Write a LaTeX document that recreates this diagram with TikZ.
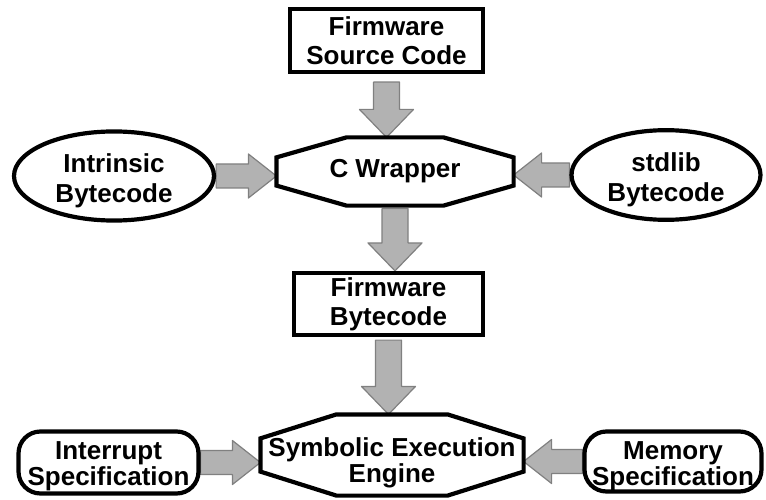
\documentclass[tikz,border=0pt]{standalone}
\usepackage{fontspec}
\setmainfont{Liberation Sans}
\usetikzlibrary{shapes.geometric,calc,backgrounds}

\tikzset{
  box/.style={draw, line width=4.2pt, align=center, inner sep=0pt, font=\bfseries\fontsize{26}{29}\selectfont},
  blk/.style={box, rectangle},
  oval/.style={box, ellipse, font=\bfseries\fontsize{26}{30}\selectfont},
  pill/.style={box, rectangle, rounded corners=22pt, font=\bfseries\fontsize{26}{26}\selectfont},
  octbox/.style={box, draw=none, rectangle},
  outline/.style={line width=4.2pt, line join=miter},
  fat/.style={fill=black!30, draw=black!50, line width=1.2pt, line join=round}
}

\newcommand{\lift}[1]{\rule{0pt}{#1}}

\newcommand{\octa}[3]{%
  \draw[outline] ([xshift=#2]#1.north west) -- ([xshift=-#2]#1.north east)
    -- ([yshift=-#3]#1.north east) -- ([yshift=#3]#1.south east)
    -- ([xshift=-#2]#1.south east) -- ([xshift=#2]#1.south west)
    -- ([yshift=#3]#1.south west) -- ([yshift=-#3]#1.north west) -- cycle;}

\newcommand{\fatarrow}[4]{%
  \draw[fat] ($(#1)!#3!-90:(#2)$) -- ($(#2)!28pt!(#1)!#3!-90:(#2)$)
    -- ($(#2)!28pt!(#1)!#4!-90:(#2)$) -- (#2)
    -- ($(#2)!28pt!(#1)!#4!90:(#2)$) -- ($(#2)!28pt!(#1)!#3!90:(#2)$)
    -- ($(#1)!#3!90:(#2)$) -- cycle;}

\begin{document}
\begin{tikzpicture}[x=1pt,y=-1pt]
  \useasboundingbox (0,0) rectangle (766,500);

  \node[blk, minimum width=193pt, minimum height=63pt] (src) at (386.5,40.5) {Firmware\\Source Code};
  \node[octbox, minimum width=233pt, minimum height=64pt] (cwrap) at (395,171.5) {C Wrapper};
  \octa{cwrap}{70pt}{20pt}
  \node[oval, minimum width=200pt, minimum height=75pt] (intr) at (114,176) {\lift{27.6pt}Intrinsic\\Bytecode};
  \node[oval, minimum width=189pt, minimum height=71pt] (stdlib) at (666,175) {\lift{28pt}stdlib\\Bytecode};
  \node[blk, minimum width=189pt, minimum height=62pt] (fwbc) at (388.5,304) {Firmware\\Bytecode};
  \node[octbox, font=\bfseries\fontsize{26}{26}\selectfont, minimum width=259pt, minimum height=77pt] (symb) at (392,455) {\lift{35.5pt}Symbolic Execution\\Engine};
  \octa{symb}{76pt}{24pt}
  \node[pill, minimum width=180pt, minimum height=62pt] (intrp) at (108.5,462.5) {\lift{25.6pt}Interrupt\\Specification};
  \node[pill, minimum width=177pt, minimum height=60pt] (mem) at (673,461.5) {\lift{27.6pt}Memory\\Specification};

  \coordinate (t1) at ([yshift=-8pt]src.south);
  \coordinate (h1) at (t1 |- cwrap.north);
  \coordinate (t2) at ([yshift=-3pt]cwrap.south);
  \coordinate (h2) at (t2 |- fwbc.north);
  \coordinate (t3) at ([yshift=-3pt]fwbc.south);
  \coordinate (h3) at (t3 |- symb.north);
  \coordinate (h4) at (intr.east -| cwrap.west);
  \coordinate (h5) at (stdlib.west -| cwrap.east);
  \coordinate (h6) at (intrp.east -| symb.west);
  \coordinate (h7) at (mem.west -| symb.east);

  \begin{scope}[on background layer]
    \fatarrow{t1}{h1}{13pt}{27pt}
    \fatarrow{t2}{h2}{13pt}{27pt}
    \fatarrow{t3}{h3}{13pt}{27pt}
    \fatarrow{intr.east}{h4}{12pt}{22pt}
    \fatarrow{stdlib.west}{h5}{12pt}{22pt}
    \fatarrow{intrp.east}{h6}{12pt}{22pt}
    \fatarrow{mem.west}{h7}{12pt}{22pt}
  \end{scope}
\end{tikzpicture}
\end{document}
